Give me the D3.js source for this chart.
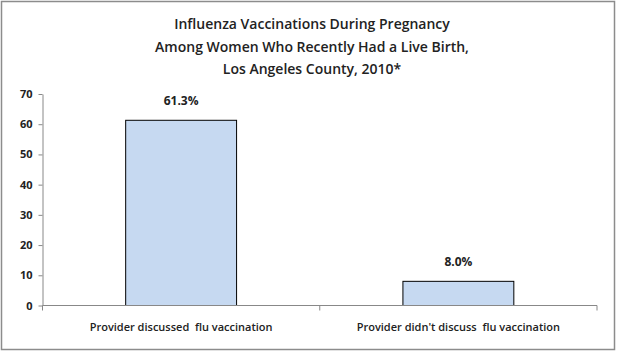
<!DOCTYPE html>
<html><head><meta charset="utf-8">
<script src="https://cdn.jsdelivr.net/npm/d3@7"></script>
<style>body{margin:0;background:#fff}svg{display:block}</style>
</head><body>
<script>
const categories = ["Provider discussed  flu vaccination", "Provider didn't discuss  flu vaccination"];
const values = [61.3, 8.0];
const valueLabels = ["61.3%", "8.0%"];
const yTicks = [0, 10, 20, 30, 40, 50, 60, 70];
const titleLines = ["Influenza Vaccinations  During Pregnancy", "Among Women  Who Recently Had a Live Birth,", "Los Angeles County, 2010*"];

const W = 617, H = 352;
const svg = d3.select("body").append("svg").attr("width", W).attr("height", H);
svg.append("rect").attr("x", 1.5).attr("y", 1.5).attr("width", W - 4).attr("height", H - 4)
  .attr("fill", "#fff").attr("stroke", "#8c8c8c").attr("stroke-width", 1.5);

const font = "'Open Sans', 'Liberation Sans', sans-serif";
const x0 = 42.5, x1 = 597, yTop = 94, yBot = 305.5;
const x = d3.scaleBand().domain(categories).range([x0, x1]).paddingInner(0.6).paddingOuter(0.3);
const xb = d3.scaleBand().domain(categories).range([x0, x1]);
const y = d3.scaleLinear().domain([0, 70]).range([yBot, yTop]);

svg.selectAll("text.title").data(titleLines).enter().append("text")
  .attr("x", 312).attr("y", (d, i) => 29 + i * 22.5).attr("text-anchor", "middle")
  .attr("font-family", font).attr("font-size", 14).attr("font-weight", 600).attr("fill", "#222").text(d => d);

// bars
svg.selectAll("rect.bar").data(values).enter().append("rect")
  .attr("x", (d, i) => x(categories[i])).attr("width", x.bandwidth())
  .attr("y", d => y(d)).attr("height", d => y(0) - y(d))
  .attr("fill", "#c6d9f1").attr("stroke", "#000").attr("stroke-width", 1);

svg.selectAll("text.vl").data(values).enter().append("text")
  .attr("x", (d, i) => x(categories[i]) + x.bandwidth() / 2).attr("y", d => y(d) - 15)
  .attr("text-anchor", "middle").attr("font-family", font).attr("font-size", 12).attr("font-weight", 700)
  .attr("fill", "#222").text((d, i) => valueLabels[i]);

// y axis
const yAxis = svg.append("g").attr("transform", `translate(${x0},0)`)
  .call(d3.axisLeft(y).tickValues(yTicks).tickSize(4).tickSizeOuter(0).tickPadding(6));
yAxis.select(".domain").attr("stroke", "#888");
yAxis.selectAll(".tick line").attr("stroke", "#888");
yAxis.selectAll(".tick text").attr("font-family", font).attr("font-size", 11).attr("font-weight", 700).attr("fill", "#222");

// x axis
const xg = svg.append("g").attr("transform", `translate(0,${yBot})`);
xg.append("line").attr("x1", x0).attr("x2", x1).attr("stroke", "#888");
const tickPos = [x0].concat(categories.map(c => xb(c) + xb.bandwidth()));
xg.selectAll("line.t").data(tickPos).enter().append("line")
  .attr("x1", d => d).attr("x2", d => d).attr("y1", 0).attr("y2", 5).attr("stroke", "#888");
xg.selectAll("text").data(categories).enter().append("text")
  .attr("x", d => xb(d) + xb.bandwidth() / 2).attr("y", 25).attr("text-anchor", "middle")
  .attr("font-family", font).attr("font-size", 11).attr("font-weight", 600).attr("fill", "#222")
  .attr("xml:space", "preserve").style("white-space", "pre").text(d => d);
</script>
</body></html>
